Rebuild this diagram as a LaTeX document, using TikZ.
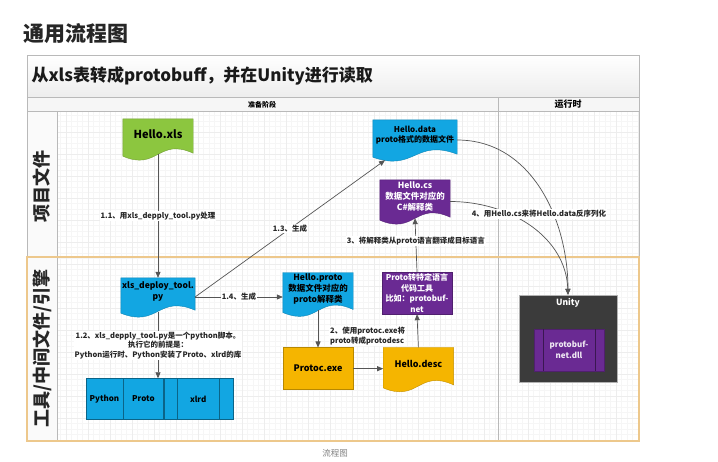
\documentclass[tikz,border=0pt]{standalone}
\usepackage{fontspec}
\setmainfont{Noto Sans CJK SC}
\usetikzlibrary{arrows.meta, positioning, backgrounds}

\definecolor{docgreen}{HTML}{8CC63F}
\definecolor{docblue}{HTML}{12A6E2}
\definecolor{docpurple}{HTML}{6A2A93}
\definecolor{docamber}{HTML}{F5B500}
\definecolor{enginegray}{HTML}{3B3B3B}
\definecolor{laneorange}{HTML}{EDC88C}
\definecolor{linkgray}{HTML}{555555}

\newcommand{\fsz}[2]{\fontsize{#1}{#2}\selectfont}

% document outline with a wavy foot, drawn under the node text
\newcommand{\wavedoc}[2]{%
  \filldraw[fill=#2, draw=#2!80!black, line width=0.4pt]
    (#1.north west) -- (#1.north east) -- ([yshift=-4pt]#1.south east)
    .. controls ([yshift=12pt]#1.south) and ([yshift=-22pt]#1.south)
    .. ([yshift=-7pt]#1.south west) -- cycle;
}

\begin{document}
\begin{tikzpicture}[
  x=1pt, y=-1pt,
  doc/.style={
    minimum width=70pt, minimum height=30pt, inner sep=1pt,
    align=center, text=black, font=\bfseries\fsz{8}{10.5}
  },
  box/.style={
    draw=#1!75!black, fill=#1, minimum width=70pt, minimum height=42pt,
    inner sep=0pt, align=center, font=\bfseries\fsz{8}{10.5}
  },
  cell/.style={
    draw=docblue!60!black, fill=docblue, minimum height=41pt,
    inner sep=0pt, font=\bfseries\fsz{8}{10}
  },
  link/.style={draw=linkgray, line width=0.7pt, -{Triangle[length=6pt,width=5pt]}},
  lbl/.style={fill=white, inner sep=1pt, align=center, text=black!85,
    font=\bfseries\fsz{7.5}{9.5}},
  lane/.style={rotate=90, text=black!85, font=\bfseries\fsz{18}{18}}
]
  \useasboundingbox (0,0) rectangle (718,461);

  % titles and headers
  \node[anchor=west, text=black!85, font=\bfseries\fsz{21}{22}] (maintitle) at (20,34) {通用流程图};
  \node[anchor=west, text=black!90, font=\bfseries\fsz{17}{20}] (flowtitle) at (28,76) {从xls表转成protobuff，并在Unity进行读取};
  \node[font=\bfseries\fsz{7}{8}] (phprep) at (262,104.5) {准备阶段};
  \node[font=\bfseries\fsz{9}{10}] (phrun) at (568,104) {运行时};
  \node[lane] (lanefile) at (42,186) {项目文件};
  \node[lane] (lanetool) at (42,348.5) {工具/中间文件/引擎};
  \node[anchor=north, text=gray, font=\fsz{8.5}{9}, inner sep=0pt] (caption) at (335,449) {流程图};

  % project files
  \node[doc, font=\bfseries\fsz{11}{13}] (hxls) at (158,134) {Hello.xls};
  \node[doc, minimum width=84pt] (hdata) at (415,135) {Hello.data\\proto格式的数据文件};
  \node[doc, text=white, font=\bfseries\fsz{8.5}{11}, minimum height=33pt] (hcs) at (415,196.5) {Hello.cs\\数据文件对应的\\C\#解释类};

  % tools and intermediate files
  \node[doc, font=\bfseries\fsz{8.5}{11}, minimum height=28pt] (deploy) at (158,292) {xls\_deploy\_tool.\\py};
  \node[doc, font=\bfseries\fsz{8.5}{11}, minimum height=32pt] (hproto) at (318,289) {Hello.proto\\数据文件对应的\\proto解释类};
  \node[box=docpurple, text=white] (ptool) at (417,293) {Proto转特定语言\\代码工具\\比如：protobuf-\\net};
  \node[box=docamber, font=\bfseries\fsz{9}{10}, below=42pt of hproto] (protoc) {Protoc.exe};
  \node[doc, font=\bfseries\fsz{9}{10}, right=30pt of protoc.north east, anchor=north west, minimum height=33pt] (hdesc) {Hello.desc};

  \node[cell, minimum width=37pt] (cpython) at (104.5,399) {Python};
  \node[cell, minimum width=40pt, right=0pt of cpython] (cproto) {Proto};
  \node[cell, minimum width=13pt, right=0pt of cproto] (cblank) {};
  \node[cell, minimum width=42pt, right=0pt of cblank] (cxlrd) {xlrd};
  \node[cell, minimum width=14pt, right=0pt of cxlrd] (cextra) {};

  % runtime
  \node[draw=gray!60, fill=enginegray, minimum width=98pt, minimum height=87pt] (unity) at (568,338.5) {};
  \node[below=0pt of unity.north, text=white, font=\bfseries\fsz{8.5}{10}] (unitylbl) {Unity};
  \node[box=docpurple, text=white!90!docpurple, minimum height=42pt] (dll) at (569,350) {protobuf-\\net.dll};
  \draw[docpurple!55!black] ([xshift=9pt]dll.north west) -- ([xshift=9pt]dll.south west)
    ([xshift=-9pt]dll.north east) -- ([xshift=-9pt]dll.south east);

  \begin{scope}[on background layer]
    \fill[white] (0,0) rectangle (718,461);
    \draw[gray!7, line width=0.3pt, step=5.5pt] (58,111) grid (639,440);
    \draw[gray!14, line width=0.3pt, step=22pt] (58,111) grid (639,440);
    \fill[gray!4] (27,111) rectangle (57,440);
    \shade[top color=white, bottom color=gray!14] (27,55) rectangle (639,97);
    \fill[gray!7] (27,97) rectangle (639,111);
    \draw[gray!55, line width=0.7pt] (27,55) rectangle (639,440);
    \draw[gray!55, line width=0.6pt] (27,97) -- (639,97) (27,111) -- (639,111)
      (57,111) -- (57,440) (498,97) -- (498,440);
    \draw[laneorange, line width=1.2pt] (27,257) rectangle (639,441);
    \wavedoc{hxls}{docgreen}
    \wavedoc{hdata}{docblue}
    \wavedoc{hcs}{docpurple}
    \wavedoc{deploy}{docblue}
    \wavedoc{hproto}{docblue}
    \wavedoc{hdesc}{docamber}
  \end{scope}

  % connectors
  \coordinate (dout) at ([yshift=-5pt]deploy.east);
  \draw[link] ([yshift=-5pt]hxls.south) -- node[lbl] (l11) {1.1、用xls\_depply\_tool.py处理} (deploy.north);
  \draw[link] ([yshift=-6pt]deploy.south) -- node[lbl] (l12) {1.2、xls\_depply\_tool.py是一个python脚本。\\执行它的前提是：\\Python运行时、Python安装了Proto、xlrd的库} (deploy.south |- cproto.north);
  \draw[link] (dout) -- node[lbl] (l13) {1.3、生成} ([xshift=-30pt,yshift=-10pt]hdata.south);
  \draw[link] (dout) -- node[lbl] (l14) {1.4、生成} (dout -| hproto.west);
  \draw[link] ([yshift=-5pt]hproto.south) -- (protoc.north);
  \node[lbl, anchor=west, align=left] (l2) at (329,336) {2、使用protoc.exe将\\proto转成protodesc};
  \draw[link] (protoc.east) -- (protoc.east -| hdesc.west);
  \draw[link] (hdesc.north) -- (ptool.south);
  \draw[link] (ptool.north) -- node[lbl, pos=0.58] (l3) {3、将解释类从proto语言翻译成目标语言} ([yshift=-5pt]hcs.south);
  \draw[link] ([yshift=-5pt]hdata.east) to[out=0, in=90] (unity.north);
  \draw[link] ([yshift=-5pt]hcs.east) to[out=0, in=92] (unity.north);
  \node[lbl] (l4) at (539,214) {4、用Hello.cs来将Hello.data反序列化};

\end{tikzpicture}
\end{document}
